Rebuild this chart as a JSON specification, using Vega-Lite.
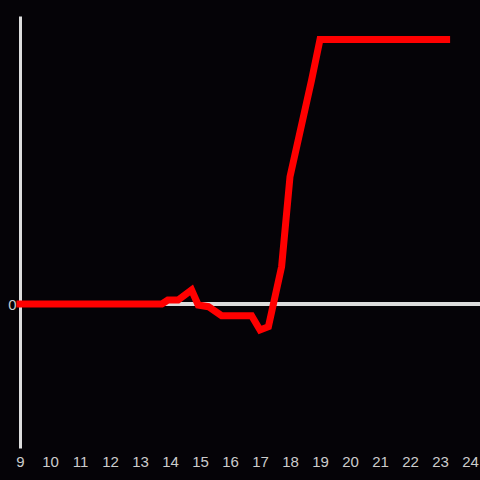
{
  "$schema": "https://vega.github.io/schema/vega-lite/v6.json",
  "width": 460,
  "height": 432,
  "autosize": {"type": "none"},
  "padding": {"left": 20, "top": 16, "right": 0, "bottom": 32},
  "background": "#050307",
  "config": {
    "view": {"stroke": null},
    "font": "Liberation Sans"
  },
  "data": {
    "values": [
      {"x": 9.0, "y": 0},
      {"x": 13.73, "y": 0},
      {"x": 13.93, "y": 4},
      {"x": 14.27, "y": 4},
      {"x": 14.72, "y": 14},
      {"x": 14.94, "y": -1},
      {"x": 15.28, "y": -2.7},
      {"x": 15.72, "y": -11.7},
      {"x": 16.72, "y": -11.7},
      {"x": 17.0, "y": -26},
      {"x": 17.28, "y": -22.7},
      {"x": 17.72, "y": 37.3},
      {"x": 18.0, "y": 127.3},
      {"x": 18.72, "y": 224},
      {"x": 19.0, "y": 264.5},
      {"x": 23.22, "y": 264.5}
    ]
  },
  "layer": [
    {
      "mark": {"type": "rule", "color": "#dddddd", "strokeWidth": 3},
      "encoding": {"y": {"datum": 0, "type": "quantitative", "scale": {"domain": [-144, 288]}}}
    },
    {
      "mark": {"type": "line", "color": "#ff0000", "strokeWidth": 7, "strokeCap": "square", "strokeJoin": "miter"},
      "encoding": {
        "x": {
          "field": "x", "type": "quantitative",
          "scale": {"domain": [9, 24.3333], "nice": false, "zero": false},
          "axis": {
            "values": [9,10,11,12,13,14,15,16,17,18,19,20,21,22,23,24],
            "domain": false, "ticks": false, "grid": false, "title": null,
            "labelColor": "#cccccc", "labelFontSize": 15, "labelPadding": 6,
            "labelFlush": false, "labelOverlap": false
          }
        },
        "y": {
          "field": "y", "type": "quantitative",
          "scale": {"domain": [-144, 288], "nice": false},
          "axis": {
            "values": [0], "domain": true, "domainColor": "#dddddd", "domainWidth": 3,
            "ticks": false, "grid": false, "title": null,
            "labelColor": "#cccccc", "labelFontSize": 15, "labelPadding": 4
          }
        }
      }
    }
  ]
}
